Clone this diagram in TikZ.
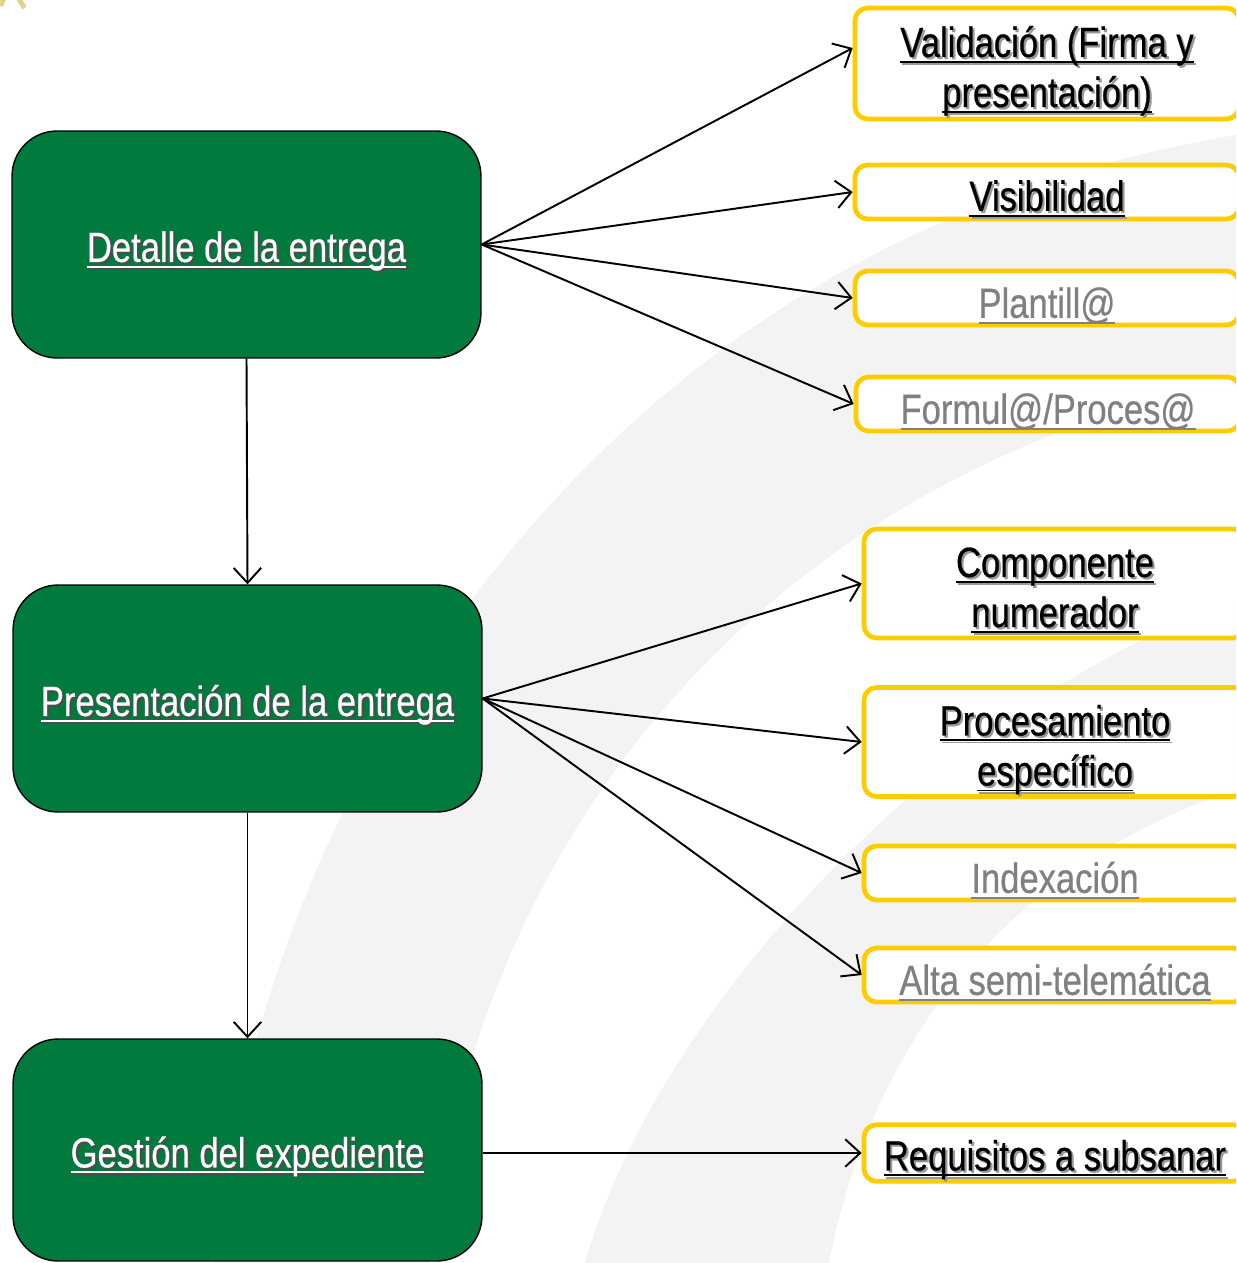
\documentclass[tikz,border=0pt]{standalone}
\usepackage{fontspec}
\setmainfont[FakeStretch=0.82,FakeBold=0.5]{Liberation Sans}
\usetikzlibrary{arrows.meta}

\definecolor{jgreen}{RGB}{0,122,61}
\definecolor{jyellow}{RGB}{255,204,0}
\definecolor{softgray}{RGB}{128,128,128}
\definecolor{swoosh}{RGB}{243,243,243}
\definecolor{logokhaki}{RGB}{222,212,140}

% underlined text, and the same with a drop shadow
\newcommand\undl[1]{\setbox0\hbox{#1}\rlap{\rule[-3.4pt]{\wd0}{1.1pt}}\box0}
\newcommand\shtext[2]{\rlap{\hspace{1.2pt}\raisebox{-1.2pt}{\color{#1}\undl{#2}}}\undl{#2}}
% last line of a two-line label, without depth
\newcommand\lastline[1]{\raisebox{0pt}[\height][0pt]{#1}}

\begin{document}
\begin{tikzpicture}[x=0.02cm, y=-0.02cm, >={Straight Barb[length=3mm,width=5.5mm]},
  stage/.style={draw=black, line width=0.8pt, fill=jgreen, rounded corners=0.9cm, minimum width=9.38cm, minimum height=4.54cm, text=white, font=\fontsize{24}{28.5}\selectfont, execute at begin node=\rule{0pt}{26pt}},
  item/.style={draw=jyellow, line width=2.7pt, fill=white, rounded corners=0.25cm, inner sep=0pt, align=center, font=\fontsize{24}{28.5}\selectfont, execute at begin node=\rule{0pt}{26pt}},
  flow/.style={->, line width=1.1pt}]
\clip (0,0) rectangle (1236,1263);

% Background swooshes
\fill[swoosh] (215,1263) .. controls (250,850) and (550,250) .. (1236,135) -- (1236,380) .. controls (800,470) and (480,800) .. (430,1263) -- cycle;
\fill[swoosh] (1236,600) .. controls (950,700) and (660,1000) .. (585,1263) -- (829,1263) .. controls (880,1000) and (1050,850) .. (1236,790) -- cycle;
\draw[logokhaki, line width=0.1cm] (0.5,6) -- (3.5,-1) (19,-1) -- (24.5,8);

% Stages
\node[stage] (detalle) at (246.5,244.5) {\shtext{black!70}{Detalle de la entrega}};
\node[stage] (presentacion) at (247.5,698.5) {\shtext{black!70}{Presentación de la entrega}};
\node[stage, minimum height=4.44cm] (gestion) at (247.5,1150) {\shtext{black!70}{Gestión del expediente}};

% Detalle items
\node[item, minimum width=7.68cm, minimum height=2.22cm] (validacion) at (1047,63.5) {\rule{0pt}{21pt}\shtext{black!40}{Validación (Firma y}\\\lastline{\shtext{black!40}{presentación)}}};
\node[item, minimum width=7.68cm, minimum height=1.08cm] (visibilidad) at (1047,192) {\shtext{black!40}{Visibilidad}};
\node[item, minimum width=7.68cm, minimum height=1.08cm, text=softgray] (plantilla) at (1047,298) {\undl{Plantill@}};
\node[item, minimum width=7.68cm, minimum height=1.08cm, text=softgray] (formula) at (1048,404) {\undl{Formul@/Proces@}};

% Presentacion items
\node[item, minimum width=7.64cm, minimum height=2.18cm] (componente) at (1055,583.5) {\rule{0pt}{21pt}\shtext{black!40}{Componente}\\\lastline{\shtext{black!40}{numerador}}};
\node[item, minimum width=7.64cm, minimum height=2.18cm] (procesamiento) at (1055,742) {\rule{0pt}{21pt}\shtext{black!40}{Procesamiento}\\\lastline{\shtext{black!40}{específico}}};
\node[item, minimum width=7.64cm, minimum height=1.08cm, text=softgray] (indexacion) at (1055,873) {\undl{Indexación}};
\node[item, minimum width=7.64cm, minimum height=1.08cm, text=softgray] (alta) at (1055,975) {\undl{Alta semi-telemática}};

% Gestion item
\node[item, minimum width=7.64cm, minimum height=1.08cm] (requisitos) at (1055,1153) {\shtext{black!40}{Requisitos a subsanar}};

% Arrows
\draw[flow] (detalle.south) -- (presentacion.north);
\draw[flow] (presentacion.south) -- (gestion.north);
\draw[flow] (detalle.east) -- ([yshift=0.31cm]validacion.west);
\draw[flow] (detalle.east) -- (visibilidad.west);
\draw[flow] (detalle.east) -- (plantilla.west);
\draw[flow] (detalle.east) -- (formula.west);
\draw[flow] (presentacion.east) -- (componente.west);
\draw[flow] (presentacion.east) -- (procesamiento.west);
\draw[flow] (presentacion.east) -- (indexacion.west);
\draw[flow] (presentacion.east) -- (alta.west);
\draw[flow] (gestion.east |- requisitos.west) -- (requisitos.west);
\end{tikzpicture}
\end{document}
